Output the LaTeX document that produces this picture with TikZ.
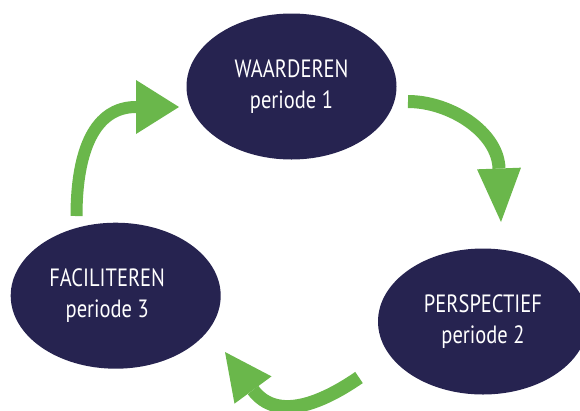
\documentclass[tikz,border=0pt]{standalone}
\usepackage{fontspec}
\setmainfont[FakeStretch=0.82]{PT Sans}
\usetikzlibrary{shapes.geometric,calc}
\definecolor{navy}{HTML}{262350}
\definecolor{leafgreen}{HTML}{6AB74B}
\tikzset{
  phase/.style={ellipse, fill=navy, text=white, minimum width=210pt, minimum height=146pt,
    inner sep=0pt, align=center, font=\fontsize{25}{31.5}\selectfont},
  shaft/.style={draw=leafgreen, line cap=butt},
  head/.style={fill=leafgreen}
}
\begin{document}
\begin{tikzpicture}[x=1pt,y=-1pt]
\useasboundingbox (0,0) rectangle (580,410);
\node[phase] (wa) at (291.5,86.5) {WAARDEREN\\periode 1};
\node[phase] (pe) at (483,321.5) {PERSPECTIEF\\periode 2};
\node[phase] (fa) at (115.7,295.7) {FACILITEREN\hspace*{17pt}\\periode 3\hspace*{17pt}};
% arrow 1: waarderen -> perspectief
\coordinate (s1) at (408,101.5);
\coordinate (b1) at (499,168.5);
\coordinate (t1) at (501,222);
\draw[shaft, line width=13pt] (s1) .. controls (450,101.5) and (498,132) .. (b1);
\fill[head] ($(b1)!22pt!90:(t1)$) -- (t1) -- ($(b1)!22pt!-90:(t1)$) -- cycle;
% arrow 2: faciliteren -> waarderen
\coordinate (s2) at (76.5,216);
\coordinate (b2) at (136,107);
\coordinate (t2) at (179,107);
\draw[shaft, line width=12pt] (s2) .. controls (76.5,150) and (95,107) .. (b2);
\fill[head] ($(b2)!27pt!90:(t2)$) -- (t2) -- ($(b2)!27pt!-90:(t2)$) -- cycle;
% arrow 3: perspectief -> faciliteren
\coordinate (s3) at (359,377.5);
\coordinate (b3) at (253,390);
\coordinate (t3) at (225,352);
\draw[shaft, line width=13.5pt] (s3) .. controls (322,403) and (277,422) .. (b3);
\fill[head] ($(b3)!23pt!90:(t3)$) -- (t3) -- ($(b3)!23pt!-90:(t3)$) -- cycle;
\end{tikzpicture}
\end{document}
